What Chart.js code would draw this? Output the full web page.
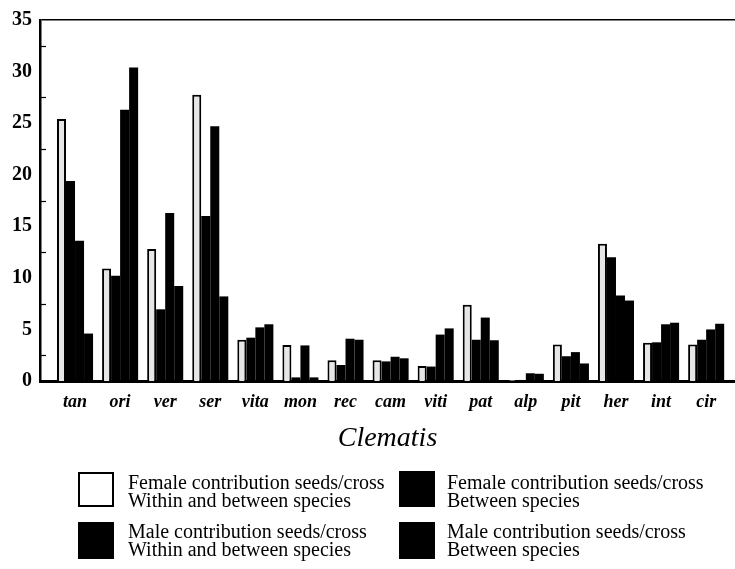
<!DOCTYPE html>
<html>
<head>
<meta charset="utf-8">
<script src="https://cdn.jsdelivr.net/npm/chart.js@4.4.1/dist/chart.umd.min.js"></script>
<style>
  html, body { margin: 0; padding: 0; background: #fff; }
  #wrap { position: relative; width: 735px; height: 569px; overflow: hidden; }
  #c { position: absolute; left: 0; top: 0; }
  .key-text {
    position: absolute;
    font-family: 'Liberation Serif', 'Times New Roman', serif;
    font-size: 20px;
    line-height: 17.5px;
    color: #000;
    white-space: nowrap;
  }
  .key-box { position: absolute; box-sizing: border-box; }
</style>
</head>
<body>
<div id="wrap">
  <canvas id="c" width="735" height="569"></canvas>
</div>
<script>
// Clematis species (abbreviated)
const categories = ['tan', 'ori', 'ver', 'ser', 'vita', 'mon', 'rec', 'cam', 'viti', 'pat', 'alp', 'pit', 'her', 'int', 'cir'];

// Seeds per cross
const femaleWithinBetween = [25.4, 10.9, 12.8, 27.75, 4.0, 3.5, 2.0, 2.0, 1.45, 7.4, 0.1, 3.55, 13.3, 3.7, 3.55];
const femaleBetween       = [19.4, 10.2, 6.95, 16.0, 4.2, 0.35, 1.55, 1.9, 1.4, 4.0, 0.1, 2.4, 12.0, 3.75, 4.0];
const maleWithinBetween   = [13.6, 26.3, 16.3, 24.7, 5.2, 3.45, 4.1, 2.35, 4.5, 6.15, 0.75, 2.8, 8.3, 5.5, 5.0];
const maleBetween         = [4.6, 30.4, 9.2, 8.2, 5.5, 0.35, 4.0, 2.2, 5.1, 3.95, 0.7, 1.7, 7.8, 5.65, 5.55];

const seriesLabels = [
  'Female contribution seeds/cross\nWithin and between species',
  'Female contribution seeds/cross\nBetween species',
  'Male contribution seeds/cross\nWithin and between species',
  'Male contribution seeds/cross\nBetween species'
];

// Y axis: labelled every 5, minor marks every 2.5
const yMin = 0;
const yMax = 35;
const yMinorStep = 2.5;
const yLabelStep = 5;

const axisTitle = 'Clematis';

const serif = "'Liberation Serif', 'Times New Roman', serif";

const toPoints = arr => arr.map((v, i) => ({ x: i, y: v }));

const datasets = [
  { label: seriesLabels[0], data: toPoints(femaleWithinBetween), backgroundColor: '#e6e6e6', borderColor: '#000', borderWidth: 2 },
  { label: seriesLabels[1], data: toPoints(femaleBetween), backgroundColor: '#000', borderColor: '#000', borderWidth: 0 },
  { label: seriesLabels[2], data: toPoints(maleWithinBetween), backgroundColor: '#000', borderColor: '#000', borderWidth: 0 },
  { label: seriesLabels[3], data: toPoints(maleBetween), backgroundColor: '#000', borderColor: '#000', borderWidth: 0 }
];

// Short inward tick marks on the value axis at the unlabelled steps
const innerTicks = {
  id: 'innerTicks',
  afterDatasetsDraw(chart) {
    const { ctx, chartArea, scales: { y } } = chart;
    ctx.save();
    ctx.strokeStyle = '#000';
    ctx.lineWidth = 1.2;
    y.ticks.forEach(t => {
      if (t.value % yLabelStep === 0) return;
      const py = Math.round(y.getPixelForValue(t.value)) + 0.5;
      ctx.beginPath();
      ctx.moveTo(chartArea.left, py);
      ctx.lineTo(chartArea.left + 6, py);
      ctx.stroke();
    });
    ctx.restore();
  }
};

const chart = new Chart(document.getElementById('c'), {
  type: 'bar',
  data: { datasets },
  plugins: [innerTicks],
  options: {
    responsive: false,
    animation: false,
    layout: { padding: { top: 15, right: 0, left: 0, bottom: 108 } },
    datasets: { bar: { barPercentage: 1.0, categoryPercentage: 0.8 } },
    plugins: { legend: { display: false }, tooltip: { enabled: false } },
    scales: {
      x: {
        type: 'linear',
        offset: false,
        min: -0.777,
        max: 14.64,
        afterBuildTicks: s => { s.ticks = categories.map((_, i) => ({ value: i })); },
        afterFit: s => { s.height = 80; },
        grid: { display: false, drawTicks: false, offset: false },
        border: { display: true, color: '#000', width: 3 },
        ticks: {
          autoSkip: false,
          maxRotation: 0,
          padding: 11,
          color: '#000',
          font: { family: serif, size: 18, style: 'italic', weight: 'bold' },
          callback: v => categories[v] !== undefined ? categories[v] : ''
        },
        title: {
          display: true,
          text: axisTitle,
          color: '#000',
          font: { family: serif, size: 28, style: 'italic' },
          padding: { top: 0, bottom: 6 }
        }
      },
      y: {
        min: yMin,
        max: yMax,
        afterFit: s => { s.width = 40; },
        border: { display: true, color: '#000', width: 2.5 },
        grid: {
          display: true,
          drawOnChartArea: true,
          drawTicks: false,
          color: c => (c.tick && c.tick.value === yMax) ? '#000' : 'rgba(0,0,0,0)',
          lineWidth: c => (c.tick && c.tick.value === yMax) ? 1.5 : 0
        },
        ticks: {
          stepSize: yMinorStep,
          autoSkip: false,
          padding: 8,
          color: '#000',
          font: { family: serif, size: 20, weight: 'bold' },
          callback: v => (v % yLabelStep === 0) ? String(v) : ''
        }
      }
    }
  }
});

// Key below the plot, built from the chart's own datasets
const keySlots = [
  { bx: 78, by: 472, bh: 35, tx: 128, ty: 474 },
  { bx: 399, by: 471, bh: 36, tx: 447, ty: 474 },
  { bx: 78, by: 522, bh: 37, tx: 128, ty: 523 },
  { bx: 399, by: 522, bh: 37, tx: 447, ty: 523 }
];
const wrap = document.getElementById('wrap');
chart.data.datasets.forEach((ds, i) => {
  const slot = keySlots[i];
  const box = document.createElement('div');
  box.className = 'key-box';
  box.style.left = slot.bx + 'px';
  box.style.top = slot.by + 'px';
  box.style.width = '36px';
  box.style.height = slot.bh + 'px';
  box.style.background = ds.borderWidth ? '#fff' : ds.backgroundColor;
  box.style.border = ds.borderWidth ? '2px solid ' + ds.borderColor : 'none';
  wrap.appendChild(box);
  const txt = document.createElement('div');
  txt.className = 'key-text';
  txt.style.left = slot.tx + 'px';
  txt.style.top = slot.ty + 'px';
  ds.label.split('\n').forEach((line, j) => {
    if (j) txt.appendChild(document.createElement('br'));
    txt.appendChild(document.createTextNode(line));
  });
  wrap.appendChild(txt);
});
</script>
</body>
</html>
